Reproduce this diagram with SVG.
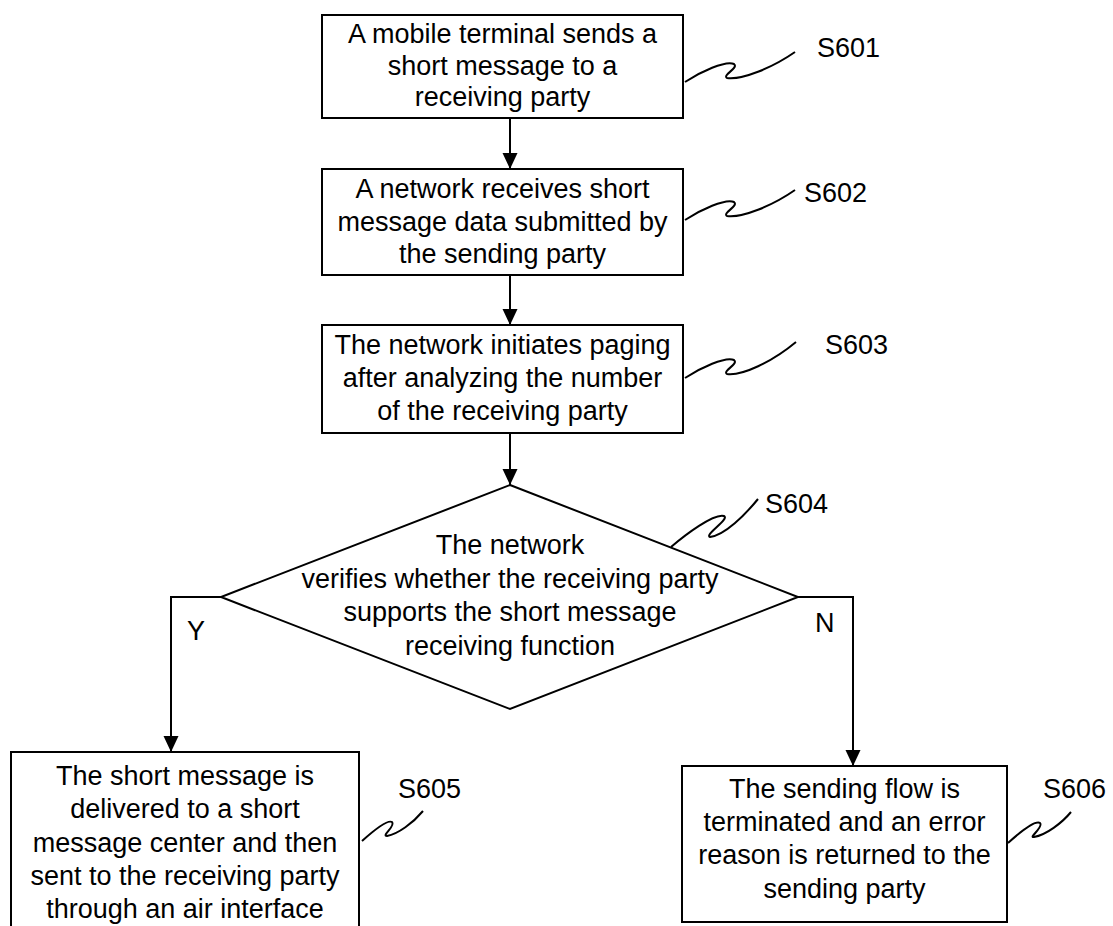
<svg xmlns="http://www.w3.org/2000/svg" width="1113" height="926" viewBox="0 0 1113 926">
<style>
.box{fill:#fff;stroke:#000;stroke-width:2}
.t{font-family:"Liberation Sans",Arial,sans-serif;font-size:27px;fill:#000;text-anchor:middle}
.lbl{font-family:"Liberation Sans",Arial,sans-serif;font-size:27px;fill:#000}
.sq{fill:none;stroke:#000;stroke-width:2}
.ln{fill:none;stroke:#000;stroke-width:2}
</style>
<defs>
<marker id="arr" viewBox="0 0 16 16" refX="16" refY="8" markerWidth="16" markerHeight="16" markerUnits="userSpaceOnUse" orient="auto">
<path d="M0,0.5 L16,8 L0,15.5 z" fill="#000"/>
</marker>
</defs>
<rect width="1113" height="926" fill="#fff"/>
<g id="connectors">
<line class="ln" x1="510" y1="118" x2="510" y2="169" marker-end="url(#arr)"/>
<line class="ln" x1="510" y1="275" x2="510" y2="325" marker-end="url(#arr)"/>
<line class="ln" x1="510" y1="433" x2="510" y2="485" marker-end="url(#arr)"/>
<polyline class="ln" points="221,597 171,597 171,752" marker-end="url(#arr)"/>
<polyline class="ln" points="798,597 853,597 853,766" marker-end="url(#arr)"/>
<text class="lbl" x="187" y="640">Y</text>
<text class="lbl" x="815" y="632">N</text>
</g>
<g id="S601">
<rect class="box" x="322" y="15" width="361" height="103"/>
<text class="t" x="502.5" y="43">A mobile terminal sends a</text>
<text class="t" x="502.5" y="75">short message to a</text>
<text class="t" x="502.5" y="106">receiving party</text>
<path class="sq" d="M685,82 C700,72 726,60 734,64 C739,68 722,75 727,78 C742,80 772,68 795,52"/>
<text class="lbl" x="817" y="57">S601</text>
</g>
<g id="S602">
<rect class="box" x="322" y="169" width="361" height="106"/>
<text class="t" x="502.5" y="198">A network receives short</text>
<text class="t" x="502.5" y="231">message data submitted by</text>
<text class="t" x="502.5" y="263">the sending party</text>
<path class="sq" d="M685,220 C700,210 726,198 734,202 C739,206 722,213 727,216 C742,218 772,206 795,190"/>
<text class="lbl" x="804" y="202">S602</text>
</g>
<g id="S603">
<rect class="box" x="322" y="325" width="361" height="108"/>
<text class="t" x="502.5" y="354">The network initiates paging</text>
<text class="t" x="502.5" y="387">after analyzing the number</text>
<text class="t" x="502.5" y="420">of the receiving party</text>
<path class="sq" d="M685,378 C700,368 726,356 734,360 C739,364 722,371 727,374 C742,376 772,362 796,342"/>
<text class="lbl" x="825" y="354">S603</text>
</g>
<g id="S604">
<polygon class="box" points="510,485 798,597 510,709 221,597"/>
<text class="t" x="510" y="554">The network</text>
<text class="t" x="510" y="588">verifies whether the receiving party</text>
<text class="t" x="510" y="621">supports the short message</text>
<text class="t" x="510" y="655">receiving function</text>
<path class="sq" d="M671,547 C685,535 714,513 724,516 C730,519 704,535 710,537 C725,535 745,515 758,499"/>
<text class="lbl" x="765" y="513">S604</text>
</g>
<g id="S605">
<rect class="box" x="11" y="752" width="348" height="190"/>
<text class="t" x="185" y="785">The short message is</text>
<text class="t" x="185" y="818">delivered to a short</text>
<text class="t" x="185" y="852">message center and then</text>
<text class="t" x="185" y="885">sent to the receiving party</text>
<text class="t" x="185" y="918">through an air interface</text>
<path class="sq" d="M362,841 C372,832 387,819 392,822 C396,826 381,836 387,836 C398,834 413,823 423,811"/>
<text class="lbl" x="398" y="798">S605</text>
</g>
<g id="S606">
<rect class="box" x="682" y="766" width="325" height="156"/>
<text class="t" x="844.5" y="798">The sending flow is</text>
<text class="t" x="844.5" y="831">terminated and an error</text>
<text class="t" x="844.5" y="864">reason is returned to the</text>
<text class="t" x="844.5" y="898">sending party</text>
<path class="sq" d="M1008,843 C1018,834 1035,820 1040,823 C1044,827 1028,838 1034,837 C1046,835 1062,823 1071,812"/>
<text class="lbl" x="1043" y="798">S606</text>
</g>
</svg>
